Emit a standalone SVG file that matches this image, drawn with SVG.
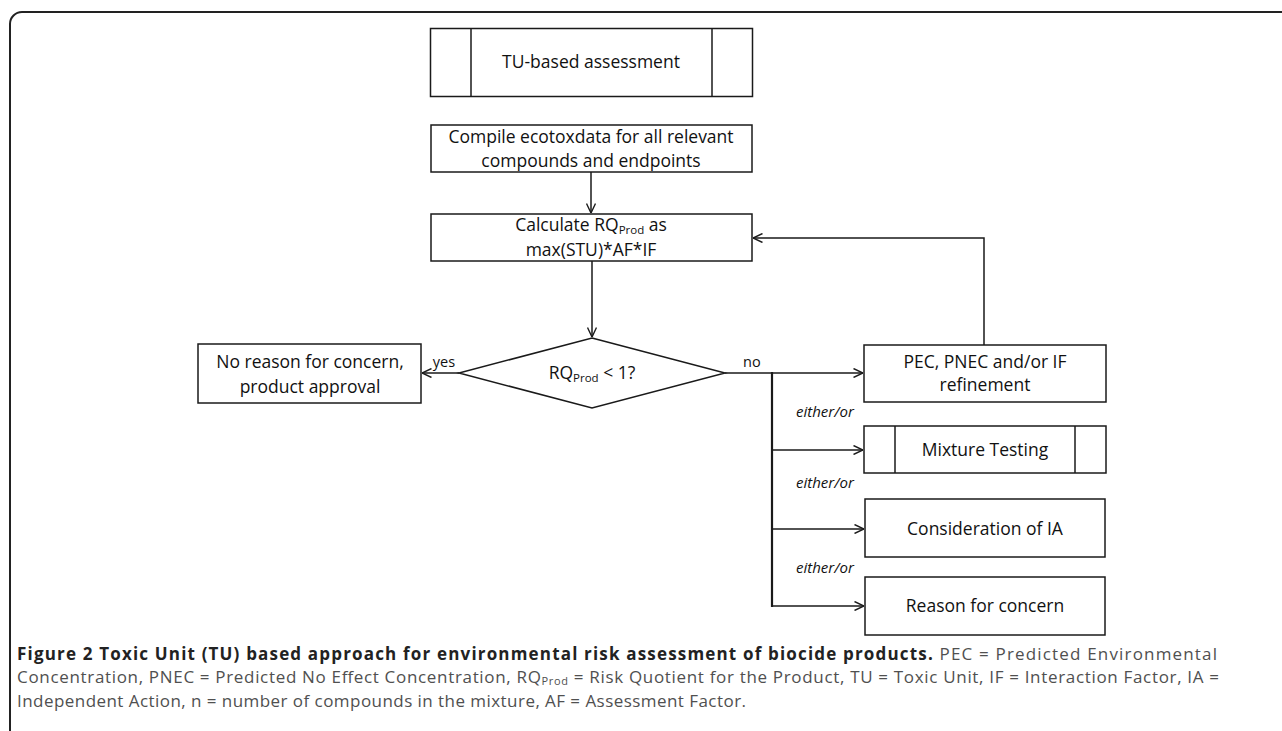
<svg xmlns="http://www.w3.org/2000/svg" width="1282" height="731" viewBox="0 0 1282 731">
<style>
.box{fill:#fff;stroke:#1a1a1a;stroke-width:1.5}
.ln{fill:none;stroke:#1a1a1a;stroke-width:1.5}
.t{font-family:"Open Sans","Liberation Sans",sans-serif;font-size:17.5px;fill:#111;text-anchor:middle}
.sub{font-size:11.5px}
.lab{font-family:"Open Sans","Liberation Sans",sans-serif;font-size:14.5px;fill:#111}
.eo{font-family:"Open Sans","Liberation Sans",sans-serif;font-size:15px;font-style:italic;fill:#111}
.cap{font-family:"Open Sans","Liberation Sans",sans-serif;font-size:17px;fill:#505050}
.capb{font-weight:bold;fill:#222}
</style>
<defs>
<marker id="arr" viewBox="0 0 10 10" refX="10" refY="5" markerWidth="10" markerHeight="10" markerUnits="userSpaceOnUse" orient="auto">
<path d="M0.5,0.5 L10,5 L0.5,9.5" fill="none" stroke="#1a1a1a" stroke-width="1.4"/>
</marker>
</defs>
<rect width="1282" height="731" fill="#fff"/>
<path d="M10,731 V24 A12,12 0 0 1 22,12 H1282" fill="none" stroke="#222" stroke-width="2"/>

<g id="connectors">
<line class="ln" x1="591" y1="172" x2="591" y2="213" marker-end="url(#arr)"/>
<line class="ln" x1="592" y1="261" x2="592" y2="337" marker-end="url(#arr)"/>
<line class="ln" x1="459" y1="373" x2="422" y2="373" marker-end="url(#arr)"/>
<line class="ln" x1="725" y1="373" x2="863" y2="373" marker-end="url(#arr)"/>
<line x1="772" y1="372" x2="772" y2="607" stroke="#1a1a1a" stroke-width="2.2"/>
<line class="ln" x1="772" y1="450" x2="863" y2="450" marker-end="url(#arr)"/>
<line class="ln" x1="772" y1="529" x2="864" y2="529" marker-end="url(#arr)"/>
<line class="ln" x1="772" y1="606" x2="864" y2="606" marker-end="url(#arr)"/>
<polyline class="ln" points="984,345 984,238 753,238" marker-end="url(#arr)"/>
<text class="lab" x="444" y="367" text-anchor="middle">yes</text>
<text class="lab" x="743" y="367">no</text>
<text class="eo" x="796" y="417">either/or</text>
<text class="eo" x="796" y="488">either/or</text>
<text class="eo" x="796" y="573">either/or</text>
</g>

<g id="tu">
<rect class="box" x="430.5" y="28.5" width="322" height="68"/>
<line class="ln" x1="471" y1="28.5" x2="471" y2="96.5"/>
<line class="ln" x1="712" y1="28.5" x2="712" y2="96.5"/>
<text class="t" x="591" y="68">TU-based assessment</text>
</g>

<g id="compile">
<rect class="box" x="431" y="125" width="321" height="47"/>
<text class="t" x="591" y="143">Compile ecotoxdata for all relevant</text>
<text class="t" x="591" y="167">compounds and endpoints</text>
</g>

<g id="calculate">
<rect class="box" x="431" y="214" width="321" height="47"/>
<text class="t" x="591" y="231">Calculate RQ<tspan class="sub" dy="2.5">Prod</tspan><tspan dy="-2.5"> as</tspan></text>
<text class="t" x="591" y="256">max(STU)*AF*IF</text>
</g>

<g id="decision">
<polygon class="box" points="592,338 725,373 592,408 459,373"/>
<text class="t" x="592" y="379">RQ<tspan class="sub" dy="3">Prod</tspan><tspan dy="-3"> &lt; 1?</tspan></text>
</g>

<g id="approval">
<rect class="box" x="198" y="344" width="223" height="59"/>
<text class="t" x="310" y="368">No reason for concern,</text>
<text class="t" x="310" y="393">product approval</text>
</g>

<g id="refinement">
<rect class="box" x="864" y="345" width="242" height="57"/>
<text class="t" x="985" y="368">PEC, PNEC and/or IF</text>
<text class="t" x="985" y="391">refinement</text>
</g>

<g id="mixture">
<rect class="box" x="864" y="426" width="242" height="47"/>
<line class="ln" x1="895" y1="426" x2="895" y2="473"/>
<line class="ln" x1="1075" y1="426" x2="1075" y2="473"/>
<text class="t" x="985" y="456">Mixture Testing</text>
</g>

<g id="ia">
<rect class="box" x="865" y="499" width="240" height="58"/>
<text class="t" x="985" y="535">Consideration of IA</text>
</g>

<g id="concern">
<rect class="box" x="865" y="577" width="240" height="58"/>
<text class="t" x="985" y="612">Reason for concern</text>
</g>

<g id="caption">
<text class="cap" x="17" y="660" textLength="1200" lengthAdjust="spacing"><tspan class="capb">Figure 2 Toxic Unit (TU) based approach for environmental risk assessment of biocide products.</tspan> PEC = Predicted Environmental</text>
<text class="cap" x="17" y="683" textLength="1202" lengthAdjust="spacing">Concentration, PNEC = Predicted No Effect Concentration, RQ<tspan font-size="11" dy="2">Prod</tspan><tspan dy="-2"> = Risk Quotient for the Product, TU = Toxic Unit, IF = Interaction Factor, IA =</tspan></text>
<text class="cap" x="17" y="707" textLength="729" lengthAdjust="spacing">Independent Action, n = number of compounds in the mixture, AF = Assessment Factor.</text>
</g>
</svg>
